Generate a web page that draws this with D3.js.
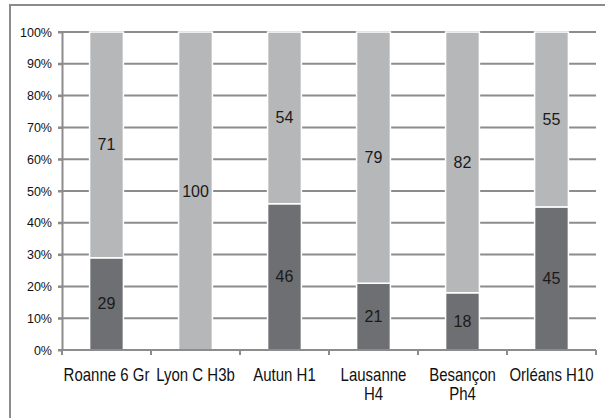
<!DOCTYPE html>
<html>
<head>
<meta charset="utf-8">
<script src="https://cdn.jsdelivr.net/npm/d3@7"></script>
<style>
  html, body { margin: 0; background: #fff; overflow: hidden; }
  svg { display: block; font-family: "Liberation Sans", Arial, sans-serif; }
</style>
</head>
<body>
<svg id="chart"></svg>
<script>
const categories = ["Roanne 6 Gr", "Lyon C H3b", "Autun H1", "Lausanne H4", "Besançon Ph4", "Orléans H10"];
const darkValues = [29, 0, 46, 21, 18, 45];
const lightValues = [71, 100, 54, 79, 82, 55];
const yTicks = [0, 10, 20, 30, 40, 50, 60, 70, 80, 90, 100];

const width = 605;
const height = 418;
const margin = ({ top: 32, right: 9, bottom: 68, left: 62 });
const colDark = "#6e6f72";
const colLight = "#b5b7b9";
const gridCol = "#8c8c8c";

const svg = d3.select("#chart")
    .attr("width", width)
    .attr("height", height);

// outer frame (runs off the right and bottom edge)
svg.append("path")
    .attr("d", `M10,${height + 5}V5H${width + 5}`)
    .attr("fill", "none")
    .attr("stroke", gridCol)
    .attr("stroke-width", 2);

const xScale = d3.scaleBand()
    .domain(categories)
    .range([margin.left, width - margin.right])
    .paddingInner(0.62)
    .paddingOuter(0.31);

const yScale = d3.scaleLinear()
    .domain([0, 100])
    .range([height - margin.bottom, margin.top]);

// gridlines
svg.append("g")
    .selectAll("line")
    .data(yTicks.filter(d => d > 0))
    .join("line")
    .attr("x1", margin.left - 4)
    .attr("x2", width - margin.right)
    .attr("y1", d => yScale(d))
    .attr("y2", d => yScale(d))
    .attr("stroke", gridCol)
    .attr("stroke-width", 2);

// y axis
const yAxis = g => g
    .attr("transform", `translate(${margin.left},0)`)
    .call(d3.axisLeft(yScale).tickValues(yTicks).tickFormat(d => d + "%").tickSize(4).tickSizeOuter(0))
    .call(g => g.selectAll("path, line").attr("stroke", gridCol).attr("stroke-width", 2))
    .call(g => g.selectAll("text")
        .attr("x", -10)
        .attr("font-size", 12.5)
        .attr("font-family", "Liberation Sans, Arial, sans-serif")
        .attr("fill", "#111"));

svg.append("g").call(yAxis);

// stacked bars
const stacked = categories.map((c, i) => ({ cat: c, dark: darkValues[i], light: lightValues[i] }));

const bars = svg.append("g");

bars.selectAll(".dark")
    .data(stacked)
    .join("rect")
    .attr("class", "dark")
    .attr("x", d => xScale(d.cat))
    .attr("width", xScale.bandwidth())
    .attr("y", d => yScale(d.dark))
    .attr("height", d => yScale(0) - yScale(d.dark))
    .attr("fill", colDark)
    .attr("stroke", "#fff")
    .attr("stroke-width", d => d.dark > 0 ? 1.5 : 0);

bars.selectAll(".light")
    .data(stacked)
    .join("rect")
    .attr("class", "light")
    .attr("x", d => xScale(d.cat))
    .attr("width", xScale.bandwidth())
    .attr("y", d => yScale(d.dark + d.light))
    .attr("height", d => yScale(d.dark) - yScale(d.dark + d.light))
    .attr("fill", colLight)
    .attr("stroke", "#fff")
    .attr("stroke-width", 1.5);

// x axis line + ticks at category borders
const x0 = margin.left, x1 = width - margin.right, y0 = yScale(0);
svg.append("line")
    .attr("x1", x0 - 4).attr("x2", x1)
    .attr("y1", y0).attr("y2", y0)
    .attr("stroke", gridCol).attr("stroke-width", 2);

svg.append("g")
    .selectAll("line")
    .data(d3.range(categories.length + 1))
    .join("line")
    .attr("x1", i => x0 + i * (x1 - x0) / categories.length)
    .attr("x2", i => x0 + i * (x1 - x0) / categories.length)
    .attr("y1", y0)
    .attr("y2", y0 + 5)
    .attr("stroke", gridCol)
    .attr("stroke-width", 2);

// data labels
const labels = svg.append("g")
    .attr("font-size", 16)
    .attr("fill", "#1a1a1a")
    .attr("text-anchor", "middle");

stacked.forEach(d => {
    const cx = xScale(d.cat) + xScale.bandwidth() / 2;
    if (d.dark > 0) {
        labels.append("text")
            .attr("x", cx)
            .attr("y", yScale(d.dark / 2))
            .attr("dy", "0.35em")
            .text(d.dark);
    }
    if (d.light > 0) {
        labels.append("text")
            .attr("x", cx)
            .attr("y", yScale(d.dark + d.light / 2))
            .attr("dy", "0.35em")
            .text(d.light);
    }
});

// category labels, wrapped when wider than the band
const catG = svg.append("g")
    .attr("font-size", 15)
    .attr("fill", "#111")
    .attr("text-anchor", "middle");

const bandW = (x1 - x0) / categories.length;
categories.forEach((c, i) => {
    const cx = x0 + (i + 0.5) * bandW;
    const t = catG.append("text")
        .attr("transform", `translate(${cx},381) scale(1,1.18)`)
        .text(c);
    if (t.node().getComputedTextLength() > 88) {
        const words = c.split(" ");
        const last = words.pop();
        t.text(null);
        t.append("tspan").attr("x", 0).attr("y", 0).text(words.join(" "));
        t.append("tspan").attr("x", 0).attr("y", 16.2).text(last);
    }
});
</script>
</body>
</html>
